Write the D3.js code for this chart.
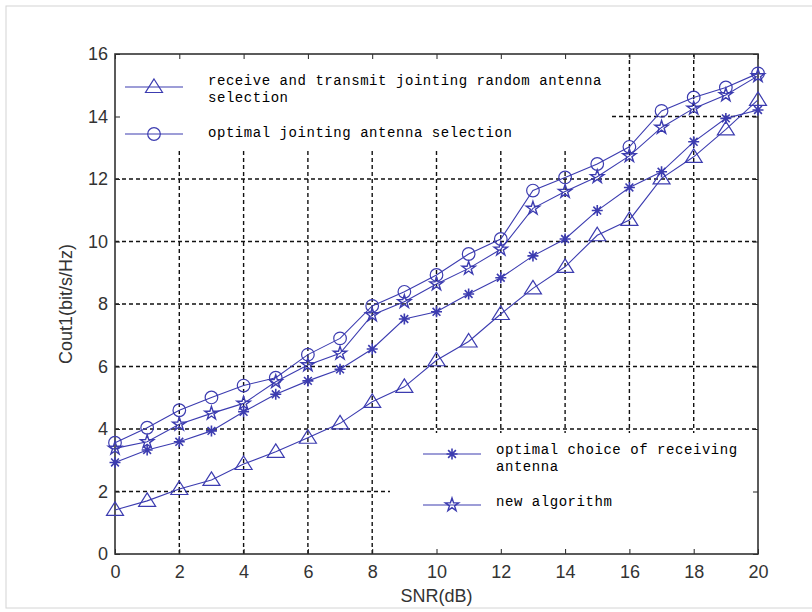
<!DOCTYPE html>
<html>
<head>
<meta charset="utf-8">
<script src="https://cdn.jsdelivr.net/npm/d3@7"></script>
<style>
  body { margin: 0; background: #fff; }
  svg { display: block; }
</style>
</head>
<body>
<svg id="chart" width="812" height="612"></svg>
<script>
// data
const snr = [0,1,2,3,4,5,6,7,8,9,10,11,12,13,14,15,16,17,18,19,20];
const randomJoint = [1.41,1.70,2.08,2.37,2.88,3.27,3.72,4.18,4.87,5.35,6.20,6.80,7.68,8.50,9.19,10.20,10.69,12.02,12.71,13.59,14.53];
const optimalJoint = [3.56,4.04,4.60,5.01,5.39,5.64,6.38,6.90,7.94,8.39,8.93,9.60,10.08,11.63,12.05,12.48,13.03,14.18,14.61,14.93,15.38];
const optimalRecv = [2.93,3.33,3.59,3.94,4.55,5.11,5.54,5.91,6.56,7.52,7.75,8.32,8.84,9.54,10.08,10.99,11.73,12.23,13.19,13.94,14.21];
const newAlgo = [3.38,3.59,4.15,4.50,4.82,5.51,6.05,6.42,7.65,8.07,8.64,9.14,9.75,11.06,11.60,12.07,12.74,13.65,14.26,14.69,15.30];
const xTicks = [0,2,4,6,8,10,12,14,16,18,20];
const yTicks = [0,2,4,6,8,10,12,14,16];

const series = [
  { name: ['receive and transmit jointing random antenna', 'selection'], values: randomJoint, marker: 'triangle' },
  { name: ['optimal jointing antenna selection'], values: optimalJoint, marker: 'circle' },
  { name: ['optimal choice of receiving', 'antenna'], values: optimalRecv, marker: 'asterisk' },
  { name: ['new algorithm'], values: newAlgo, marker: 'star' }
];

const svg = d3.select('#chart');
const pLeft = 115, pRight = 758, pTop = 54, pBottom = 554;
const lineColor = '#3c3cb0';

const x = d3.scaleLinear().domain([0, 20]).range([pLeft, pRight]);
const y = d3.scaleLinear().domain([0, 16]).range([pBottom, pTop]);

// faint outer frame of the figure window
svg.append('rect')
  .attr('x', 6).attr('y', 6).attr('width', 840).attr('height', 602)
  .attr('fill', '#fff').attr('stroke', '#d4d4d4');

// grid
const grid = svg.append('g')
  .attr('stroke', '#111').attr('stroke-width', 1.4).attr('stroke-dasharray', '4,3');
grid.selectAll('.gx').data(xTicks.slice(1, -1)).join('line')
  .attr('x1', d => x(d)).attr('x2', d => x(d))
  .attr('y1', pBottom).attr('y2', pTop);
grid.selectAll('.gy').data(yTicks.slice(1, -1)).join('line')
  .attr('y1', d => y(d)).attr('y2', d => y(d))
  .attr('x1', pLeft).attr('x2', pRight);

// legend backgrounds hide the grid
const legends = [
  { x0: pLeft, y0: pTop, x1: 610, y1: 148 },
  { x0: 390, y0: 433, x1: pRight, y1: pBottom }
];
svg.selectAll('.legbg').data(legends).join('rect')
  .attr('x', d => d.x0).attr('y', d => d.y0)
  .attr('width', d => d.x1 - d.x0).attr('height', d => d.y1 - d.y0)
  .attr('fill', '#fff');

// axes
const axisFont = 'Liberation Sans, Arial, sans-serif';
const xAxis = svg.append('g').attr('transform', `translate(0,${pBottom})`)
  .call(d3.axisBottom(x).tickValues(xTicks).tickSizeInner(-5).tickSizeOuter(0).tickPadding(10));
const yAxis = svg.append('g').attr('transform', `translate(${pLeft},0)`)
  .call(d3.axisLeft(y).tickValues(yTicks).tickSizeInner(-5).tickSizeOuter(0).tickPadding(7));
svg.append('g').attr('transform', `translate(0,${pTop})`)
  .call(d3.axisTop(x).tickValues(xTicks).tickSizeInner(-5).tickSizeOuter(0).tickFormat(''));
svg.append('g').attr('transform', `translate(${pRight},0)`)
  .call(d3.axisRight(y).tickValues(yTicks).tickSizeInner(-5).tickSizeOuter(0).tickFormat(''));
svg.selectAll('.domain').remove();
svg.selectAll('.tick line').attr('stroke', '#222');
[xAxis, yAxis].forEach(a => a.selectAll('text')
  .attr('font-family', axisFont).attr('font-size', 18).attr('fill', '#333'));
xAxis.selectAll('text').attr('dy', '0.75em');

svg.append('rect')
  .attr('x', pLeft).attr('y', pTop).attr('width', pRight - pLeft).attr('height', pBottom - pTop)
  .attr('fill', 'none').attr('stroke', '#333').attr('stroke-width', 1.6);

svg.append('text')
  .attr('x', (pLeft + pRight) / 2).attr('y', 602)
  .attr('text-anchor', 'middle')
  .attr('font-family', axisFont).attr('font-size', 18).attr('fill', '#333')
  .text('SNR(dB)');
svg.append('text')
  .attr('transform', 'translate(72,304) rotate(-90)')
  .attr('text-anchor', 'middle')
  .attr('font-family', axisFont).attr('font-size', 18).attr('fill', '#333')
  .text('Cout1(bit/s/Hz)');

// markers
function marker(sel, type) {
  if (type === 'asterisk') {
    const r = 5.5, a = r * Math.SQRT1_2;
    sel.append('path')
      .attr('d', `M${-r},0L${r},0M0,${-r}L0,${r}M${-a},${-a}L${a},${a}M${-a},${a}L${a},${-a}`)
      .attr('fill', 'none').attr('stroke', lineColor).attr('stroke-width', 1.6);
  } else if (type === 'star') {
    sel.append('path')
      .attr('d', d3.symbol(d3.symbolStar, 55)())
      .attr('fill', 'none').attr('stroke', lineColor).attr('stroke-width', 1.4);
  } else if (type === 'triangle') {
    sel.append('path')
      .attr('d', 'M0,-8L8.5,5.5L-8.5,5.5Z')
      .attr('fill', 'none').attr('stroke', lineColor).attr('stroke-width', 1.2);
  } else {
    sel.append('circle').attr('r', 6.3)
      .attr('fill', 'none').attr('stroke', lineColor).attr('stroke-width', 1.2);
  }
}

const line = d3.line().x((d, i) => x(snr[i])).y(d => y(d));
series.forEach(s => {
  svg.append('path').datum(s.values)
    .attr('d', line)
    .attr('fill', 'none').attr('stroke', lineColor).attr('stroke-width', 1.1);
  svg.append('g').selectAll('g').data(s.values).join('g')
    .attr('transform', (d, i) => `translate(${x(snr[i])},${y(d)})`)
    .each(function() { marker(d3.select(this), s.marker); });
});

// legend entries
const legendItems = [
  { s: series[0], lx: 125, ly: 87, tx: 208, ty: 85 },
  { s: series[1], lx: 125, ly: 134, tx: 208, ty: 137 },
  { s: series[2], lx: 423, ly: 454, tx: 496, ty: 454 },
  { s: series[3], lx: 423, ly: 505, tx: 496, ty: 506 }
];
legendItems.forEach(it => {
  svg.append('line')
    .attr('x1', it.lx).attr('x2', it.lx + 58).attr('y1', it.ly).attr('y2', it.ly)
    .attr('stroke', lineColor).attr('stroke-width', 1.1);
  marker(svg.append('g').attr('transform', `translate(${it.lx + 29},${it.ly})`), it.s.marker);
  const t = svg.append('text')
    .attr('font-family', 'Liberation Mono, Courier New, monospace')
    .attr('font-size', 14).attr('letter-spacing', 0.55).attr('fill', '#000');
  it.s.name.forEach((str, k) => {
    t.append('tspan').attr('x', it.tx).attr('y', it.ty + k * 17).text(str);
  });
});
</script>
</body>
</html>
